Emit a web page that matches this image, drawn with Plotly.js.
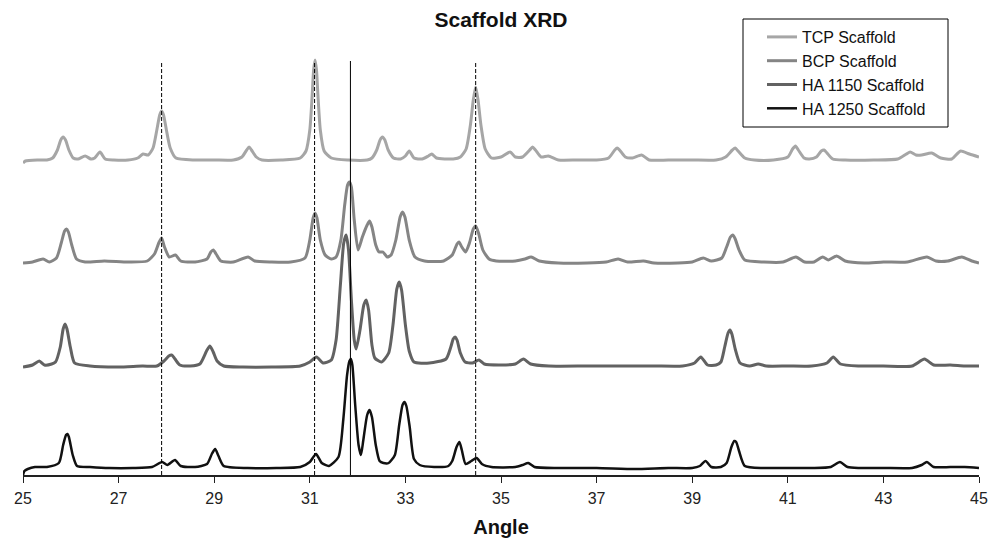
<!DOCTYPE html>
<html>
<head>
<meta charset="utf-8">
<script src="https://cdn.plot.ly/plotly-3.0.1.min.js"></script>
<style>
  html, body { margin: 0; padding: 0; background: #fff; }
  #chart { width: 1001px; height: 538px; }
</style>
</head>
<body>
<div id="chart"></div>
<script>
// Series names
const seriesNames = ["TCP Scaffold", "BCP Scaffold", "HA 1150 Scaffold", "HA 1250 Scaffold"];

// [angle, intensity (offset, arbitrary units)]
const tcpData = [
  [25.00,312],[25.05,314],[25.30,315],[25.50,315],[25.62,317],[25.72,325],[25.79,335],[25.84,338],[25.89,335],
  [25.96,325],[26.05,317],[26.15,316],[26.30,319],[26.42,316],[26.50,317],[26.61,323],[26.72,316],[26.90,315],
  [27.20,315],[27.40,317],[27.51,321],[27.62,320],[27.72,327],[27.80,345],[27.86,360],[27.90,364],[27.94,360],
  [28.00,345],[28.08,327],[28.20,317],[28.60,315],[29.00,315],[29.40,315],[29.58,318],[29.68,325],[29.73,328],
  [29.78,325],[29.88,318],[30.00,315],[30.40,315],[30.80,317],[30.92,324],[31.00,345],[31.05,380],[31.08,405],
  [31.11,415],[31.14,405],[31.17,380],[31.22,345],[31.30,324],[31.45,317],[31.80,315],[32.20,315],[32.30,317],
  [32.40,325],[32.47,335],[32.52,338],[32.57,335],[32.64,325],[32.75,317],[32.90,316],[33.00,319],[33.08,324],
  [33.18,317],[33.35,316],[33.48,319],[33.55,321],[33.65,317],[34.00,316],[34.15,318],[34.27,326],[34.36,350],
  [34.42,375],[34.47,388],[34.52,375],[34.58,350],[34.67,326],[34.80,317],[35.00,318],[35.19,323],[35.30,318],
  [35.45,318],[35.60,325],[35.66,328],[35.72,325],[35.84,318],[35.99,319],[36.20,315],[36.60,315],[37.00,315],
  [37.25,317],[37.38,325],[37.43,327],[37.48,325],[37.60,318],[37.75,317],[37.94,320],[38.10,315],[38.50,315],
  [39.00,315],[39.50,315],[39.70,318],[39.84,325],[39.90,327],[39.96,324],[40.10,317],[40.30,315],[40.70,315],
  [41.00,318],[41.10,326],[41.16,329],[41.22,325],[41.34,317],[41.45,316],[41.60,318],[41.70,324],[41.76,325],
  [41.82,322],[41.94,316],[42.20,315],[42.80,315],[43.30,316],[43.48,321],[43.56,323],[43.68,320],[43.80,320],
  [44.01,322],[44.20,317],[44.43,316],[44.56,322],[44.62,324],[44.80,321],[45.00,318]
];

const bcpData = [
  [25.00,212],[25.20,213],[25.42,216],[25.55,213],[25.70,217],[25.80,232],[25.87,244],[25.91,246],[25.95,243],
  [26.02,230],[26.12,216],[26.30,213],[26.70,214],[27.20,213],[27.60,214],[27.75,221],[27.84,232],[27.90,237],
  [27.96,228],[28.06,218],[28.19,220],[28.30,214],[28.60,213],[28.85,216],[28.93,223],[28.98,225],[29.04,221],
  [29.14,214],[29.40,213],[29.71,218],[29.85,214],[30.20,213],[30.60,213],[30.90,217],[31.00,235],[31.07,257],
  [31.11,262],[31.15,257],[31.22,235],[31.32,220],[31.45,216],[31.55,218],[31.65,235],[31.73,270],[31.79,290],
  [31.83,293],[31.87,288],[31.93,255],[32.01,225],[32.10,238],[32.20,250],[32.25,254],[32.30,248],[32.38,230],
  [32.45,223],[32.53,223],[32.62,218],[32.70,220],[32.80,235],[32.89,258],[32.94,263],[32.99,258],[33.08,235],
  [33.20,218],[33.40,214],[33.80,214],[33.98,220],[34.08,231],[34.12,233],[34.18,228],[34.26,223],[34.34,232],
  [34.42,246],[34.47,249],[34.53,242],[34.62,225],[34.75,216],[34.90,214],[35.30,214],[35.50,216],[35.63,218],
  [35.80,214],[36.20,212],[36.80,212],[37.20,213],[37.45,216],[37.65,213],[37.98,214],[38.20,212],[38.70,212],
  [39.00,213],[39.23,217],[39.40,214],[39.62,217],[39.72,228],[39.80,238],[39.85,240],[39.90,236],[39.98,225],
  [40.10,215],[40.50,213],[40.90,213],[41.17,218],[41.35,213],[41.55,213],[41.73,218],[41.85,215],[42.02,219],
  [42.20,214],[42.60,212],[43.00,213],[43.50,213],[43.91,218],[44.10,214],[44.35,214],[44.64,218],[44.85,214],
  [45.00,212]
];

const ha1150Data = [
  [25.00,108],[25.20,110],[25.34,114],[25.45,110],[25.60,111],[25.68,113],[25.78,128],[25.84,146],[25.88,151],
  [25.92,146],[25.99,128],[26.08,112],[26.40,109],[27.00,108],[27.50,109],[27.80,109],[27.95,114],[28.05,119],
  [28.11,120],[28.18,116],[28.28,110],[28.50,109],[28.70,111],[28.84,124],[28.91,129],[28.98,123],[29.06,114],
  [29.20,109],[29.60,108],[30.20,108],[30.80,109],[31.00,113],[31.14,118],[31.28,112],[31.45,115],[31.55,135],
  [31.64,190],[31.71,232],[31.76,240],[31.81,225],[31.87,175],[31.93,135],[31.97,126],[32.05,145],[32.13,170],
  [32.18,175],[32.23,165],[32.30,130],[32.36,117],[32.50,113],[32.65,122],[32.74,150],[32.82,186],[32.87,193],
  [32.92,185],[33.00,150],[33.08,124],[33.18,113],[33.50,112],[33.85,116],[33.95,128],[34.00,136],[34.04,138],
  [34.08,135],[34.15,122],[34.25,113],[34.40,112],[34.54,115],[34.65,111],[35.00,110],[35.30,111],[35.47,116],
  [35.62,111],[36.00,109],[36.80,109],[37.50,109],[38.20,109],[38.80,109],[39.05,112],[39.18,118],[39.32,110],
  [39.50,110],[39.60,113],[39.68,128],[39.75,142],[39.79,145],[39.83,141],[39.90,126],[40.00,112],[40.20,109],
  [40.38,111],[40.55,109],[41.00,109],[41.50,109],[41.82,112],[41.95,118],[42.10,111],[42.50,109],[43.00,109],
  [43.60,109],[43.86,116],[44.05,110],[44.40,110],[44.70,109],[45.00,109]
];

const ha1250Data = [
  [25.00,0],[25.03,4],[25.10,6],[25.25,8],[25.50,8],[25.75,12],[25.84,30],[25.90,40],[25.93,41],[25.96,38],
  [26.04,20],[26.13,9],[26.40,8],[26.80,7],[27.30,7],[27.70,8],[27.91,13],[28.02,10],[28.18,15],[28.30,9],
  [28.60,8],[28.85,11],[28.95,21],[29.02,26],[29.09,19],[29.20,9],[29.70,7],[30.30,7],[30.80,8],[31.00,13],
  [31.13,21],[31.25,12],[31.40,9],[31.60,18],[31.70,55],[31.78,100],[31.83,114],[31.86,116],[31.89,110],
  [31.95,70],[32.02,30],[32.07,20],[32.12,35],[32.20,60],[32.25,65],[32.30,58],[32.38,30],[32.46,14],[32.54,12],
  [32.65,12],[32.78,20],[32.87,50],[32.94,70],[32.98,73],[33.02,69],[33.09,48],[33.18,16],[33.30,10],[33.60,8],
  [33.90,9],[33.98,14],[34.07,28],[34.13,33],[34.18,25],[34.26,11],[34.38,14],[34.49,17],[34.60,11],[34.80,8],
  [35.30,8],[35.45,10],[35.57,12],[35.70,8],[36.20,7],[37.00,7],[37.80,6],[38.50,7],[39.00,7],[39.16,9],
  [39.28,14],[39.40,8],[39.60,8],[39.72,12],[39.82,28],[39.88,34],[39.92,33],[39.98,24],[40.10,9],[40.50,7],
  [41.00,7],[41.50,7],[41.90,8],[42.09,13],[42.25,8],[42.50,7],[43.00,7],[43.60,7],[43.80,10],[43.91,13],
  [44.05,8],[44.40,8],[44.70,8],[45.00,7]
];

// Reference lines (angles)
const dashedLines = [27.9, 31.1, 34.47];
const solidLines = [31.85];
const refLineTop = 414;

// X axis ticks
const tickValues = [25, 27, 29, 31, 33, 35, 37, 39, 41, 43, 45];

const colors = ["#a6a6a6", "#858585", "#626262", "#111111"];
const widths = [3, 3, 3, 2.5];
const allData = [tcpData, bcpData, ha1150Data, ha1250Data];

const traces = allData.map((d, i) => ({
  type: "scatter",
  mode: "lines",
  name: seriesNames[i],
  x: d.map(p => p[0]),
  y: d.map(p => p[1]),
  line: { color: colors[i], width: widths[i], shape: "spline", smoothing: 0.6 },
  hoverinfo: "x+y+name"
}));

const shapes = [];
dashedLines.forEach(a => shapes.push({
  type: "line", xref: "x", yref: "y", x0: a, x1: a, y0: 0, y1: refLineTop,
  line: { color: "#000", width: 1, dash: "4px,2px" }, layer: "above"
}));
solidLines.forEach(a => shapes.push({
  type: "line", xref: "x", yref: "y", x0: a, x1: a, y0: 0, y1: refLineTop,
  line: { color: "#000", width: 1 }, layer: "above"
}));
// legend frame
shapes.push({
  type: "rect", xref: "paper", yref: "paper",
  x0: (743 - 23) / 956, x1: (948 - 23) / 956,
  y0: (475 - 127) / 435, y1: (475 - 19) / 435,
  line: { color: "#000", width: 1 }, fillcolor: "rgba(255,255,255,1)", layer: "below"
});

const layout = {
  width: 1001, height: 538,
  margin: { l: 23, r: 22, t: 40, b: 63 },
  paper_bgcolor: "#fff", plot_bgcolor: "rgba(0,0,0,0)",
  font: { family: "Liberation Sans, Arial, sans-serif", color: "#222" },
  title: {
    text: "Scaffold XRD",
    font: { family: "Liberation Sans, Arial, sans-serif", size: 21, weight: "bold", color: "#111" },
    x: 0.5, xref: "paper", xanchor: "center",
    y: 1 - 20 / 538, yref: "container", yanchor: "middle"
  },
  xaxis: {
    range: [25, 45],
    tickvals: tickValues,
    ticktext: tickValues.map(String),
    ticks: "outside", ticklen: 6, tickwidth: 1, tickcolor: "#222",
    ticklabelstandoff: 2,
    showline: true, linecolor: "#222", linewidth: 1.5,
    showgrid: false, zeroline: false,
    tickfont: { size: 16, color: "#222" },
    title: { text: "Angle", font: { size: 20, weight: "bold", color: "#111" }, standoff: 16 },
    automargin: false
  },
  yaxis: {
    range: [0, 435],
    visible: false, showgrid: false, zeroline: false, fixedrange: true
  },
  legend: {
    x: (762 - 23) / 956, xanchor: "left", xref: "paper",
    y: (475 - 20) / 435, yanchor: "top", yref: "paper",
    bgcolor: "rgba(0,0,0,0)", borderwidth: 0,
    font: { size: 16, color: "#111" },
    tracegroupgap: 0
  },
  showlegend: true,
  shapes: shapes
};

Plotly.newPlot("chart", traces, layout, { displayModeBar: false, staticPlot: true });
</script>
</body>
</html>
